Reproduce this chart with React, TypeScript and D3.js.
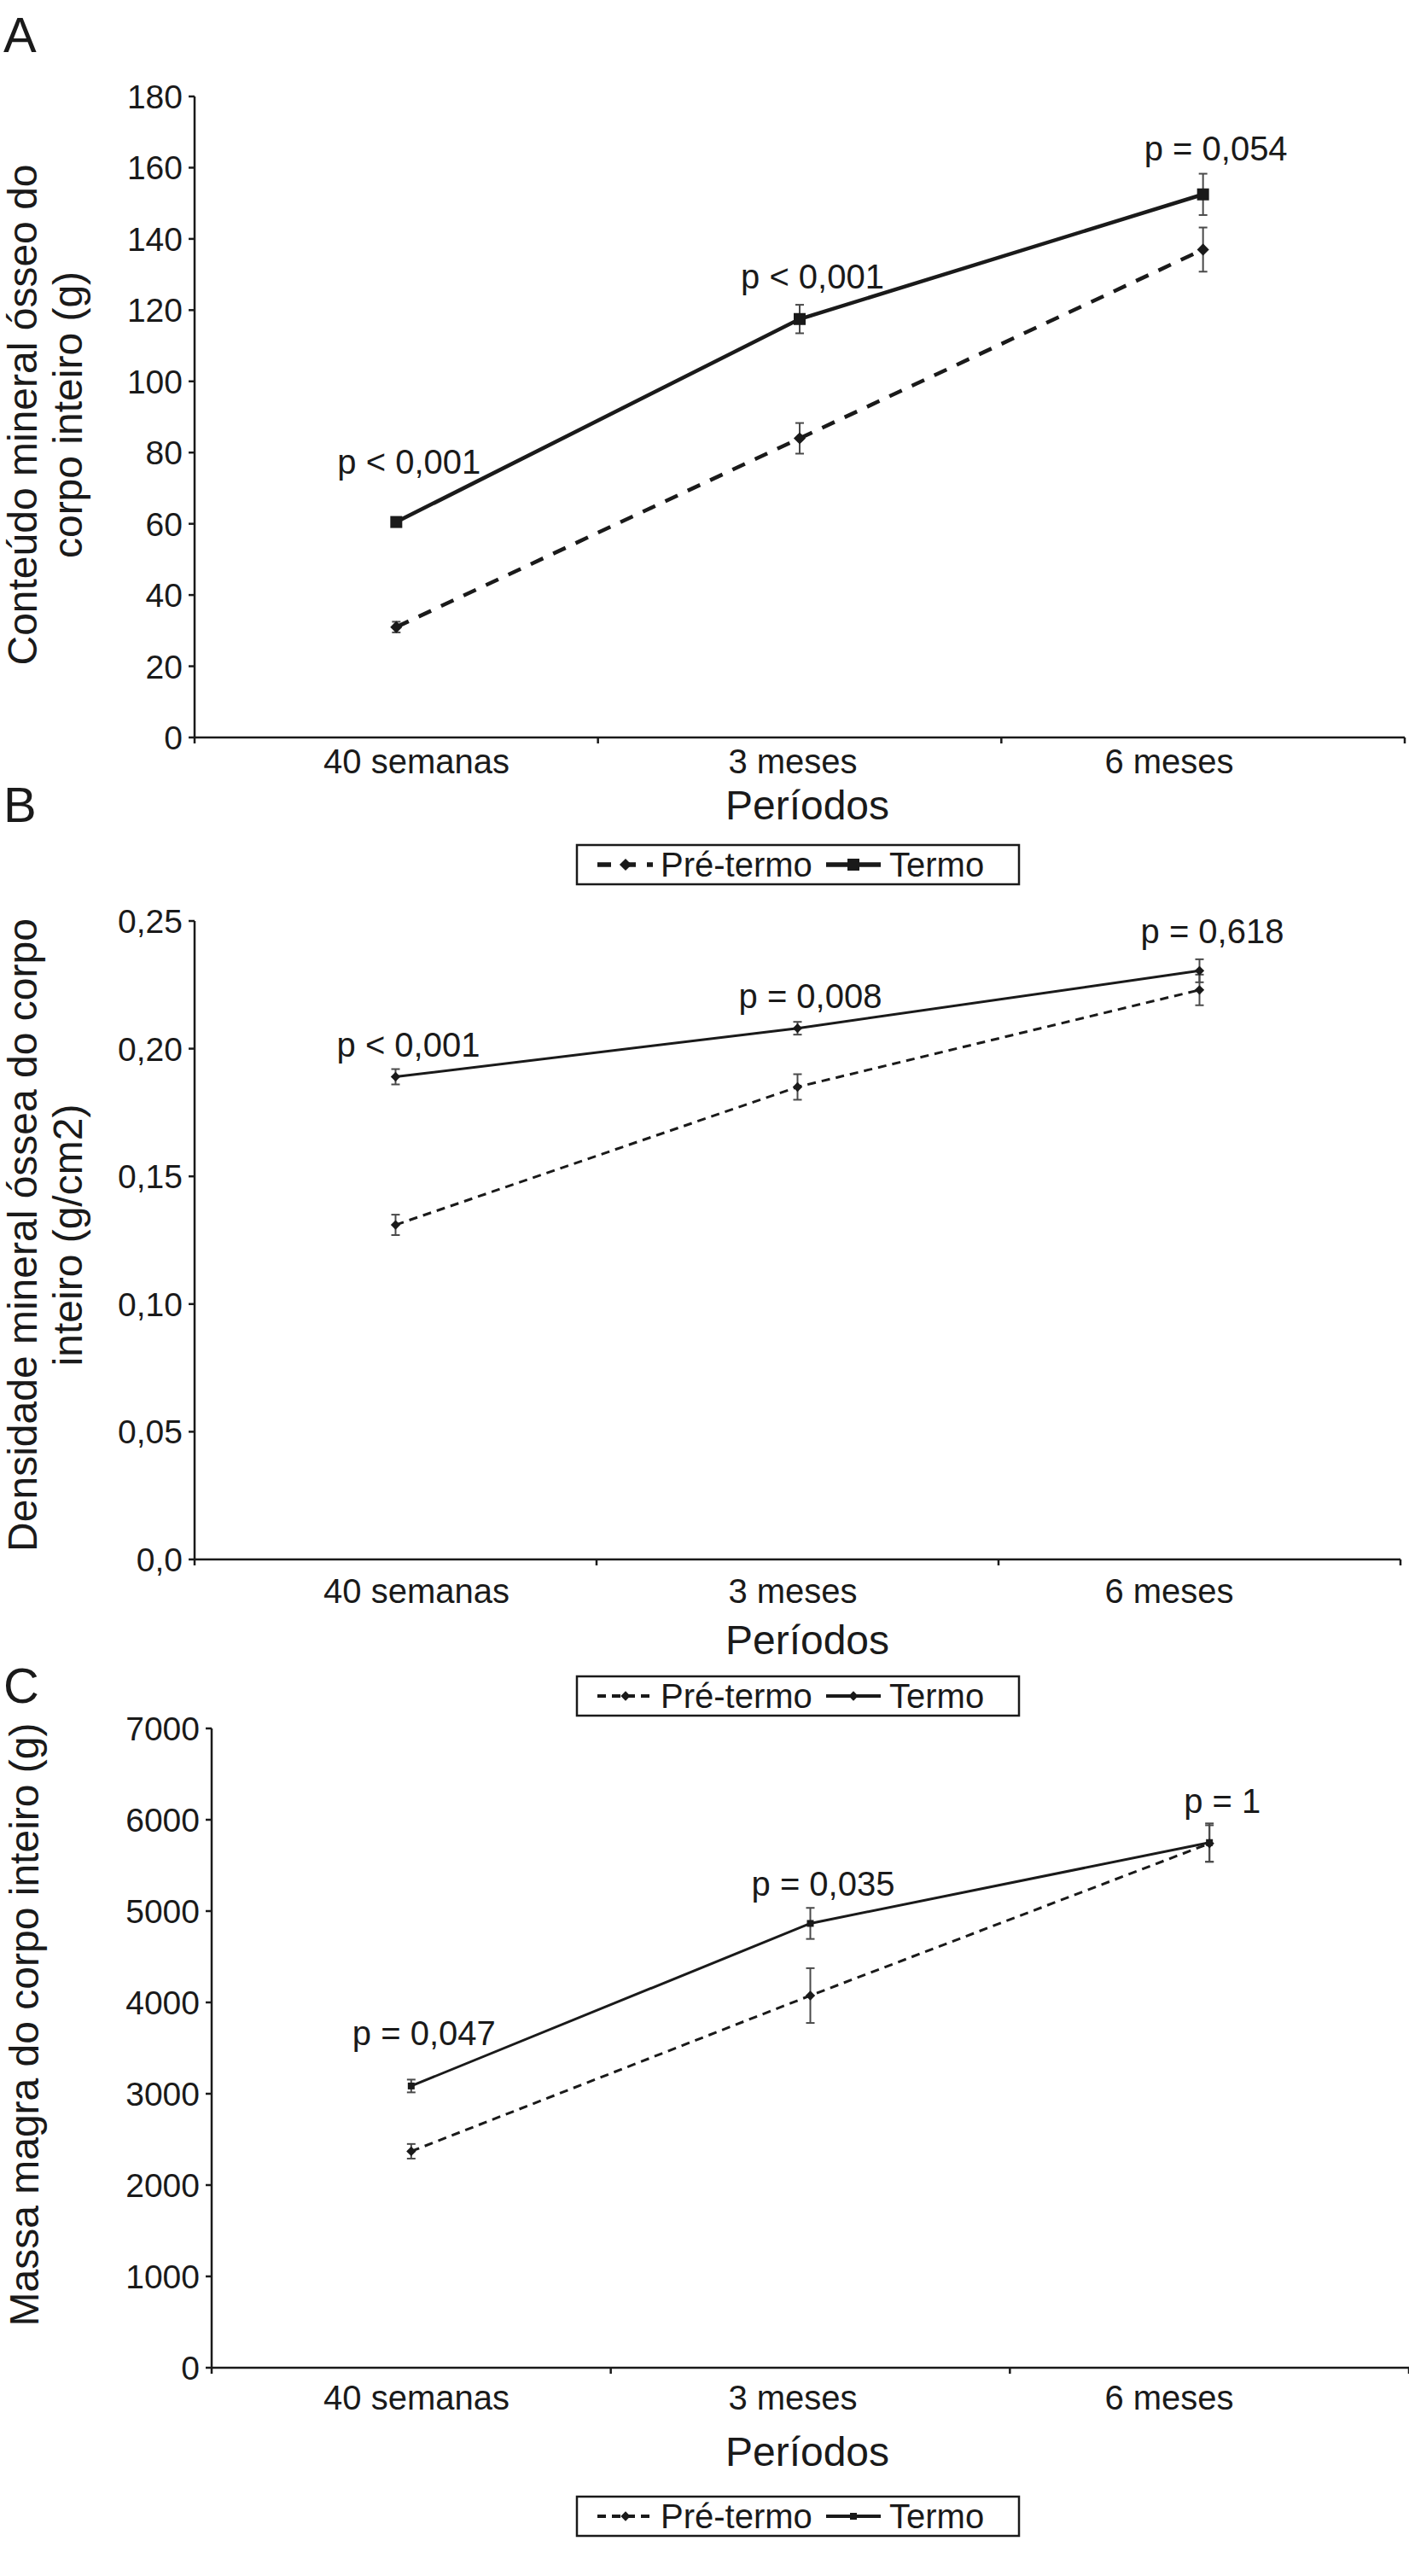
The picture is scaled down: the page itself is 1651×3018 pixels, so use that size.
import * as d3 from "d3";

const categories = ["40 semanas", "3 meses", "6 meses"];
const seriesNames = ["Pré-termo", "Termo"];
const xTitle = "Períodos";

// A: conteúdo mineral ósseo (g)
const aTicks = [0, 20, 40, 60, 80, 100, 120, 140, 160, 180];
const aPre = [31, 84, 137];
const aPreErr = [1.5, 4.3, 6.2];
const aTermo = [60.5, 117.5, 152.5];
const aTermoErr = [1.3, 4, 5.8];
const aPLabels = ["p < 0,001", "p < 0,001", "p = 0,054"];
const aPAt = [74, 126, 162];

// B: densidade mineral óssea (g/cm2)
const bTicks = [0, 0.05, 0.1, 0.15, 0.2, 0.25];
const bPre = [0.131, 0.185, 0.223];
const bPreErr = [0.004, 0.005, 0.006];
const bTermo = [0.189, 0.208, 0.2305];
const bTermoErr = [0.003, 0.0025, 0.0045];
const bPLabels = ["p < 0,001", "p = 0,008", "p = 0,618"];
const bPAt = [0.197, 0.216, 0.2413];

// C: massa magra (g)
const cTicks = [0, 1000, 2000, 3000, 4000, 5000, 6000, 7000];
const cPre = [2370, 4075, 5740];
const cPreErr = [80, 300, 200];
const cTermo = [3085, 4865, 5750];
const cTermoErr = [70, 170, 210];
const cPLabels = ["p = 0,047", "p = 0,035", "p = 1"];
const cPAt = [3530, 5170, 6075];

const FONT = "'Liberation Sans', Arial, sans-serif";
const INK = "#1a1a1a";
const W = 1651;
const H = 3018;

const comma = (digits: number) => (v: number) =>
  v === 0 ? (digits ? "0,0" : "0") : v.toFixed(digits).replace(".", ",");

// tick labels sit a bit off the band centres in the original
const labelX = d3.scalePoint<string>().domain(categories).range([488, 1370]);

type Look = {
  lineW: number;
  dash: string;
  termoMarker: "square" | "diamond";
  termoSize: number;
  preSize: number;
  legendTermoMarker: "square" | "diamond";
};

type PanelProps = {
  letter: string;
  letterY: number;
  x0: number;
  x1: number;
  yTop: number;
  yBottom: number;
  domain: [number, number];
  ticks: number[];
  fmt: (v: number) => string;
  titleLines: string[];
  titleCY: number;
  titleX: number[];
  pre: number[];
  preErr: number[];
  termo: number[];
  termoErr: number[];
  pLabels: string[];
  pAt: number[];
  xLabelY: number;
  xTitleY: number;
  legendY: number;
  look: Look;
};

function Marker({ kind, x, y, size }: { kind: string; x: number; y: number; size: number }) {
  const path = d3.symbol().type(d3.symbolSquare).size(size * size)()!;
  return (
    <path
      d={path}
      transform={`translate(${x},${y}) rotate(${kind === "diamond" ? 45 : 0})`}
      fill={INK}
    />
  );
}

function Panel(p: PanelProps) {
  const x = d3.scaleBand<string>().domain(categories).range([p.x0, p.x1]);
  const y = d3.scaleLinear().domain(p.domain).range([p.yBottom, p.yTop]);
  const cx = (c: string) => (x(c) ?? 0) + x.bandwidth() / 2;
  const line = d3
    .line<number>()
    .x((_, i) => cx(categories[i]))
    .y((d) => y(d));
  const boundaries = d3.range(categories.length + 1).map((i) => p.x0 + i * x.bandwidth());

  const errBars = (vals: number[], errs: number[], key: string) =>
    vals.map((v, i) => {
      const xc = cx(categories[i]);
      const hi = y(v + errs[i]);
      const lo = y(v - errs[i]);
      return (
        <g key={key + i} stroke="#4a4a4a" strokeWidth={2}>
          <line x1={xc} x2={xc} y1={hi} y2={lo} />
          <line x1={xc - 5} x2={xc + 5} y1={hi} y2={hi} />
          <line x1={xc - 5} x2={xc + 5} y1={lo} y2={lo} />
        </g>
      );
    });

  const lx = 676;
  const lw = 518;
  const lh = 46;
  const ly = p.legendY;
  const lmid = ly + lh / 2;

  return (
    <g fontFamily={FONT} fill={INK}>
      <text x={4} y={p.letterY} fontSize={58}>
        {p.letter}
      </text>

      {/* y axis */}
      <line x1={p.x0} x2={p.x0} y1={p.yTop} y2={p.yBottom} stroke={INK} strokeWidth={2.5} />
      {p.ticks.map((t) => (
        <g key={t}>
          <line x1={p.x0 - 7} x2={p.x0} y1={y(t)} y2={y(t)} stroke={INK} strokeWidth={2.5} />
          <text x={p.x0 - 14} y={y(t)} dy="0.36em" textAnchor="end" fontSize={39}>
            {p.fmt(t)}
          </text>
        </g>
      ))}

      {/* x axis */}
      <line x1={p.x0} x2={p.x1} y1={p.yBottom} y2={p.yBottom} stroke={INK} strokeWidth={2.5} />
      {boundaries.map((b, i) => (
        <line key={i} x1={b} x2={b} y1={p.yBottom} y2={p.yBottom + 7} stroke={INK} strokeWidth={2.5} />
      ))}
      {categories.map((c) => (
        <text key={c} x={labelX(c)} y={p.xLabelY} textAnchor="middle" fontSize={40}>
          {c}
        </text>
      ))}
      <text x={946} y={p.xTitleY} textAnchor="middle" fontSize={48}>
        {xTitle}
      </text>

      {/* y title */}
      {p.titleLines.map((t, i) => (
        <text
          key={i}
          transform={`translate(${p.titleX[i]},${p.titleCY}) rotate(-90)`}
          textAnchor="middle"
          fontSize={48}
        >
          {t}
        </text>
      ))}

      {/* series */}
      {errBars(p.pre, p.preErr, "pe")}
      {errBars(p.termo, p.termoErr, "te")}
      <path
        d={line(p.pre)!}
        fill="none"
        stroke={INK}
        strokeWidth={p.look.lineW}
        strokeDasharray={p.look.dash}
      />
      <path d={line(p.termo)!} fill="none" stroke={INK} strokeWidth={p.look.lineW} />
      {p.pre.map((v, i) => (
        <Marker key={"pm" + i} kind="diamond" x={cx(categories[i])} y={y(v)} size={p.look.preSize} />
      ))}
      {p.termo.map((v, i) => (
        <Marker
          key={"tm" + i}
          kind={p.look.termoMarker}
          x={cx(categories[i])}
          y={y(v)}
          size={p.look.termoSize}
        />
      ))}

      {/* p values */}
      {p.pLabels.map((t, i) => (
        <text key={"p" + i} x={cx(categories[i]) + 15} y={y(p.pAt[i])} textAnchor="middle" fontSize={40}>
          {t}
        </text>
      ))}

      {/* legend */}
      <rect x={lx} y={ly} width={lw} height={lh} fill="white" stroke={INK} strokeWidth={2.5} />
      <line
        x1={lx + 24}
        x2={lx + 89}
        y1={lmid}
        y2={lmid}
        stroke={INK}
        strokeWidth={p.look.lineW + 1}
        strokeDasharray={p.look.dash}
      />
      <Marker kind="diamond" x={lx + 57} y={lmid} size={p.look.preSize} />
      <text x={lx + 98} y={lmid} dy="0.36em" fontSize={40}>
        {seriesNames[0]}
      </text>
      <line x1={lx + 292} x2={lx + 356} y1={lmid} y2={lmid} stroke={INK} strokeWidth={p.look.lineW + 1} />
      <Marker kind={p.look.legendTermoMarker} x={lx + 324} y={lmid} size={p.look.termoSize} />
      <text x={lx + 366} y={lmid} dy="0.36em" fontSize={40}>
        {seriesNames[1]}
      </text>
    </g>
  );
}

export default function App() {
  return (
    <svg
      width={W}
      height={H}
      viewBox={`0 0 ${W} ${H}`}
      style={{ position: "absolute", left: 0, top: 0, background: "white" }}
    >
      <rect width={W} height={H} fill="white" />
      <Panel
        letter="A"
        letterY={61}
        x0={228}
        x1={1646}
        yTop={113}
        yBottom={864}
        domain={[0, 180]}
        ticks={aTicks}
        fmt={comma(0)}
        titleLines={["Conteúdo mineral ósseo do", "corpo inteiro (g)"]}
        titleCY={486}
        titleX={[43, 96]}
        pre={aPre}
        preErr={aPreErr}
        termo={aTermo}
        termoErr={aTermoErr}
        pLabels={aPLabels}
        pAt={aPAt}
        xLabelY={906}
        xTitleY={960}
        legendY={990}
        look={{ lineW: 4.5, dash: "16,13", termoMarker: "square", termoSize: 14, preSize: 10, legendTermoMarker: "square" }}
      />
      <Panel
        letter="B"
        letterY={963}
        x0={228}
        x1={1641}
        yTop={1079}
        yBottom={1827}
        domain={[0, 0.25]}
        ticks={bTicks}
        fmt={comma(2)}
        titleLines={["Densidade mineral óssea do corpo", "inteiro (g/cm2)"]}
        titleCY={1447}
        titleX={[43, 96]}
        pre={bPre}
        preErr={bPreErr}
        termo={bTermo}
        termoErr={bTermoErr}
        pLabels={bPLabels}
        pAt={bPAt}
        xLabelY={1878}
        xTitleY={1938}
        legendY={1964}
        look={{ lineW: 3, dash: "10,7", termoMarker: "diamond", termoSize: 8, preSize: 8, legendTermoMarker: "diamond" }}
      />
      <Panel
        letter="C"
        letterY={1995}
        x0={248}
        x1={1651}
        yTop={2025}
        yBottom={2774}
        domain={[0, 7000]}
        ticks={cTicks}
        fmt={comma(0)}
        titleLines={["Massa magra do corpo inteiro (g)"]}
        titleCY={2372}
        titleX={[45]}
        pre={cPre}
        preErr={cPreErr}
        termo={cTermo}
        termoErr={cTermoErr}
        pLabels={cPLabels}
        pAt={cPAt}
        xLabelY={2823}
        xTitleY={2889}
        legendY={2925}
        look={{ lineW: 3, dash: "10,7", termoMarker: "square", termoSize: 8, preSize: 8, legendTermoMarker: "square" }}
      />
    </svg>
  );
}
